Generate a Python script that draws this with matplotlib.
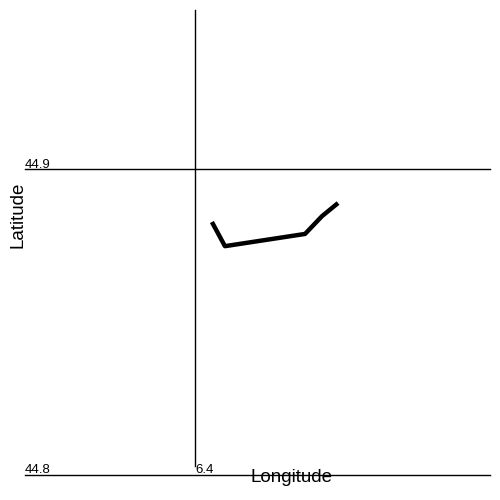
import matplotlib
matplotlib.use("Agg")
import matplotlib.pyplot as plt

plt.rcParams['font.family'] = ['Liberation Sans', 'DejaVu Sans']

# Track data (longitude, latitude)
lon = [6.4078, 6.4138, 6.4507, 6.4585, 6.4659]
lat = [44.8827, 44.8748, 44.8788, 44.8846, 44.8889]

lon_ticks = [6.4]
lat_ticks = [44.8, 44.9]
lon_tick_labels = ["6.4"]
lat_tick_labels = ["44.8", "44.9"]

xlim = (6.3217, 6.5359)
ylim = (44.8, 44.952)

fig = plt.figure(figsize=(5, 5), dpi=100)
ax = fig.add_axes([0.05, 0.05, 0.93, 0.93])
ax.set_xlim(*xlim)
ax.set_ylim(*ylim)
for s in ax.spines.values():
    s.set_visible(False)
ax.set_xticks([])
ax.set_yticks([])

# grid lines
for y in lat_ticks:
    ax.axhline(y, color='black', lw=1.0, zorder=1, clip_on=False)
for x in lon_ticks:
    ax.axvline(x, ymin=0.019, ymax=1.0, color='black', lw=1.0, zorder=1, clip_on=False)

# tick labels
for y, lab in zip(lat_ticks, lat_tick_labels):
    ax.text(xlim[0], y + 0.0005, lab, ha='left', va='baseline', fontsize=9.5)
for x, lab in zip(lon_ticks, lon_tick_labels):
    ax.text(x, ylim[0] + 0.0005, lab, ha='left', va='baseline', fontsize=9.5)

# track
ax.plot(lon, lat, color='black', lw=3.2, solid_capstyle='butt', zorder=3)

# axis labels
fig.text(291 / 500, 1 - 477 / 500, "Longitude", ha='center', va='center', fontsize=13.5)
fig.text(18 / 500, 1 - 215 / 500, "Latitude", ha='center', va='center', fontsize=13.5, rotation=90)

fig.savefig("out.png", dpi=100)
